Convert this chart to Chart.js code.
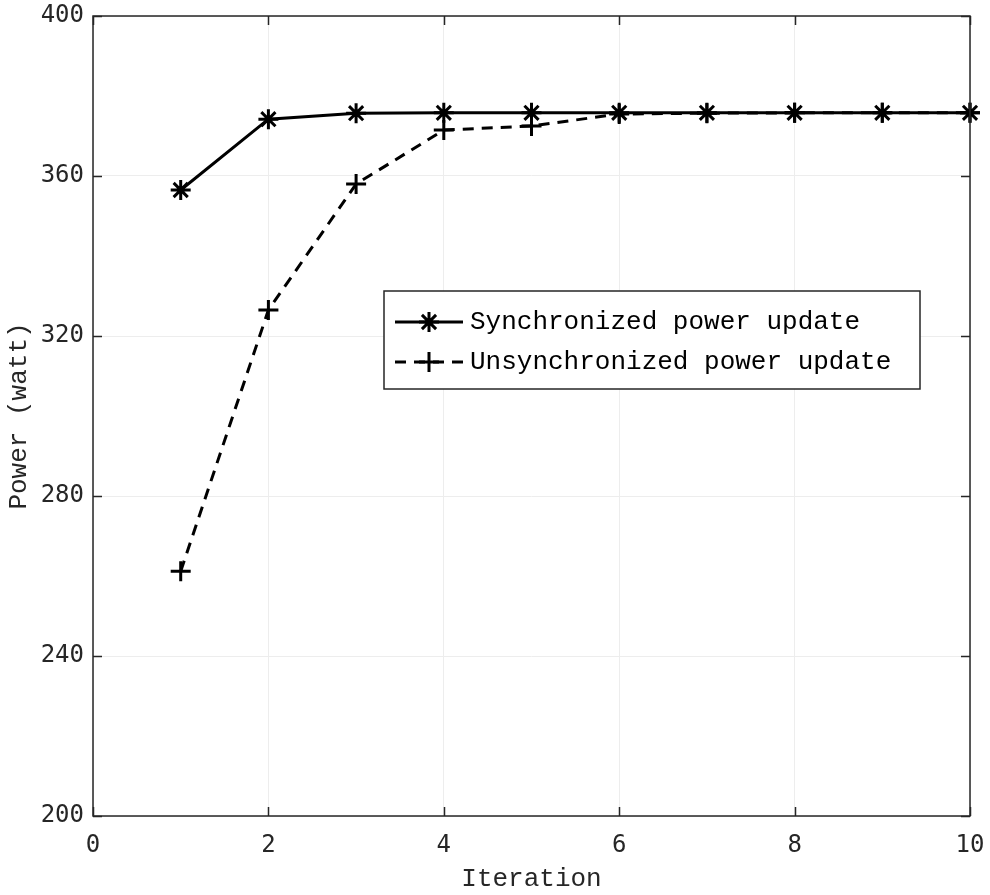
<!DOCTYPE html>
<html>
<head>
<meta charset="utf-8">
<script src="https://cdn.jsdelivr.net/npm/chart.js@4.4.1/dist/chart.umd.min.js"></script>
<style>
  html, body { margin: 0; padding: 0; background: #fff; }
  #wrap { width: 990px; height: 895px; }
</style>
</head>
<body>
<div id="wrap"><canvas id="powerChart" width="990" height="895"></canvas></div>
<script>
// power per iteration, both update schemes
const iterations = [1, 2, 3, 4, 5, 6, 7, 8, 9, 10];
const syncPower = [356.5, 374.2, 375.7, 375.8, 375.8, 375.8, 375.8, 375.8, 375.8, 375.8];
const unsyncPower = [261.2, 326.5, 358.0, 371.5, 372.5, 375.5, 375.7, 375.8, 375.8, 375.8];
const seriesNames = ['Synchronized power update', 'Unsynchronized power update'];
const xTicks = [0, 2, 4, 6, 8, 10];
const yTicks = [200, 240, 280, 320, 360, 400];

const axisColor = '#262626';
const monoTitle = 'Liberation Mono, DejaVu Sans Mono, monospace';
const monoTick = 'DejaVu Sans Mono, monospace';

const toPoints = vals => iterations.map((x, i) => ({ x: x, y: vals[i] }));

// frame around the plot area with inward tick marks on all four sides
const frameTicks = {
  id: 'frameTicks',
  afterDatasetsDraw(chart) {
    const { ctx, chartArea: a, scales } = chart;
    const len = 9;
    ctx.save();
    ctx.strokeStyle = axisColor;
    ctx.lineWidth = 1.5;
    ctx.setLineDash([]);
    ctx.beginPath();
    xTicks.forEach(v => {
      const px = Math.round(scales.x.getPixelForValue(v)) + 0.5;
      ctx.moveTo(px, a.bottom); ctx.lineTo(px, a.bottom - len);
      ctx.moveTo(px, a.top); ctx.lineTo(px, a.top + len);
    });
    yTicks.forEach(v => {
      const py = Math.round(scales.y.getPixelForValue(v)) + 0.5;
      ctx.moveTo(a.left, py); ctx.lineTo(a.left + len, py);
      ctx.moveTo(a.right, py); ctx.lineTo(a.right - len, py);
    });
    ctx.stroke();
    ctx.strokeRect(a.left, a.top, a.right - a.left, a.bottom - a.top);
    ctx.restore();
  }
};

// boxed legend sitting inside the plot
const boxLegend = {
  id: 'boxLegend',
  afterDraw(chart) {
    const { ctx } = chart;
    const bx = 384, by = 291, bw = 536, bh = 98;
    ctx.save();
    ctx.fillStyle = '#fff';
    ctx.fillRect(bx, by, bw, bh);
    ctx.strokeStyle = axisColor;
    ctx.lineWidth = 1.5;
    ctx.strokeRect(bx, by, bw, bh);
    const rows = [322, 362];
    chart.data.datasets.forEach((ds, i) => {
      const y = rows[i];
      ctx.strokeStyle = ds.borderColor;
      ctx.lineWidth = ds.borderWidth;
      ctx.setLineDash(ds.borderDash || []);
      ctx.beginPath();
      ctx.moveTo(395, y);
      ctx.lineTo(463, y);
      ctx.stroke();
      ctx.setLineDash([]);
      ctx.lineWidth = ds.pointBorderWidth;
      Chart.helpers.drawPoint(ctx, {
        pointStyle: ds.pointStyle,
        radius: ds.pointRadius,
        rotation: 0,
        borderWidth: ds.pointBorderWidth
      }, 429, y);
      ctx.fillStyle = '#000';
      ctx.font = '26px ' + monoTitle;
      ctx.textBaseline = 'middle';
      ctx.textAlign = 'left';
      ctx.fillText(ds.label, 470, y);
    });
    ctx.restore();
  }
};

new Chart(document.getElementById('powerChart'), {
  type: 'scatter',
  data: {
    datasets: [
      {
        label: seriesNames[0],
        data: toPoints(syncPower),
        showLine: true,
        borderColor: '#000',
        borderWidth: 3,
        pointStyle: 'star',
        pointRadius: 10,
        pointBorderWidth: 3,
        pointBorderColor: '#000',
        pointBackgroundColor: '#000',
        clip: false
      },
      {
        label: seriesNames[1],
        data: toPoints(unsyncPower),
        showLine: true,
        borderColor: '#000',
        borderWidth: 3,
        borderDash: [11, 8],
        pointStyle: 'cross',
        pointRadius: 10,
        pointBorderWidth: 3,
        pointBorderColor: '#000',
        pointBackgroundColor: '#000',
        clip: false
      }
    ]
  },
  options: {
    responsive: false,
    animation: false,
    layout: { padding: { top: 16, right: 20, left: 0, bottom: 0 } },
    plugins: { legend: { display: false }, tooltip: { enabled: false } },
    scales: {
      x: {
        type: 'linear',
        min: 0,
        max: 10,
        afterBuildTicks: s => { s.ticks = xTicks.map(v => ({ value: v })); },
        afterFit: s => { s.height = 79; s.paddingLeft = 0; s.paddingRight = 0; },
        grid: { color: '#ededed', lineWidth: 1, drawTicks: false },
        border: { display: false },
        ticks: { color: axisColor, padding: 15, font: { family: monoTick, size: 24 } },
        title: {
          display: true,
          text: 'Iteration',
          color: axisColor,
          padding: { top: 0, bottom: 0 },
          font: { family: monoTitle, size: 26 }
        }
      },
      y: {
        type: 'linear',
        min: 200,
        max: 400,
        afterBuildTicks: s => { s.ticks = yTicks.map(v => ({ value: v })); },
        afterFit: s => { s.width = 93; s.paddingTop = 0; s.paddingBottom = 0; },
        grid: { color: '#ededed', lineWidth: 1, drawTicks: false },
        border: { display: false },
        ticks: { color: axisColor, padding: 9, font: { family: monoTick, size: 24 } },
        title: {
          display: true,
          text: 'Power (watt)',
          color: axisColor,
          padding: { top: 4, bottom: 0 },
          font: { family: monoTitle, size: 26 }
        }
      }
    }
  },
  plugins: [frameTicks, boxLegend]
});
</script>
</body>
</html>
